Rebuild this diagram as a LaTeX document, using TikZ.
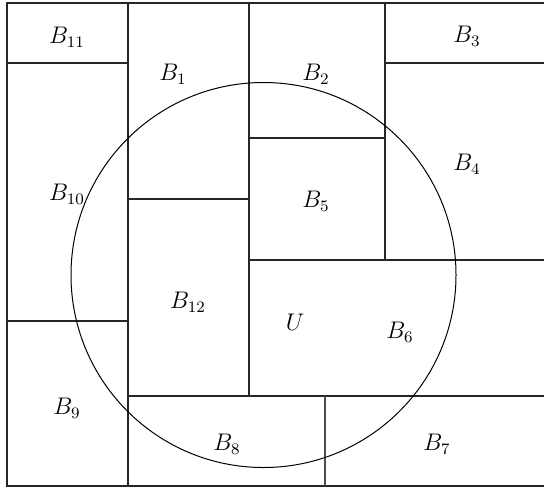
\documentclass[tikz,border=0pt]{standalone}
\usepackage{tikz}
\begin{document}
\begin{tikzpicture}[
  x=0.5pt, y=-0.5pt,
  frame/.style={line width=0.6pt, draw=black!85},
  wall/.style={line width=1pt, draw=black!85},
  ball/.style={line width=0.5pt, draw=black},
  tag/.style={font=\large, inner sep=0pt}
]
\useasboundingbox (0,0) rectangle (544,489);
\draw[frame] (544,3) -- (7,3) -- (7,486) -- (544,486);

\draw[wall] (128,3) -- (128,486);
\draw[wall] (7,63) -- (128,63);
\draw[wall] (7,321) -- (128,321);
\draw[wall] (128,199) -- (249,199);
\draw[wall] (249,3) -- (249,396);
\draw[wall] (249,138) -- (385,138);
\draw[wall] (385,3) -- (385,260);
\draw[wall] (385,63) -- (544,63);
\draw[wall] (249,260) -- (544,260);
\draw[wall] (128,396) -- (544,396);
\draw[wall, draw=black!70] (325,396) -- (325,486);

\draw[ball] (263.5,275) circle[radius=96.25pt];

\node[tag] (b11) at (67,37) {$B_{11}$};
\node[tag] (b1) at (173,74) {$B_1$};
\node[tag] (b2) at (316,74) {$B_2$};
\node[tag] (b3) at (467,36) {$B_3$};
\node[tag] (b4) at (467,164) {$B_4$};
\node[tag] (b5) at (316,201) {$B_5$};
\node[tag] (b10) at (67,194) {$B_{10}$};
\node[tag] (b12) at (188,302) {$B_{12}$};
\node[tag] (u) at (295,322) {$U$};
\node[tag] (b6) at (400,332) {$B_6$};
\node[tag] (b9) at (67,408) {$B_9$};
\node[tag] (b8) at (227,444) {$B_8$};
\node[tag] (b7) at (437,444) {$B_7$};
\end{tikzpicture}
\end{document}
